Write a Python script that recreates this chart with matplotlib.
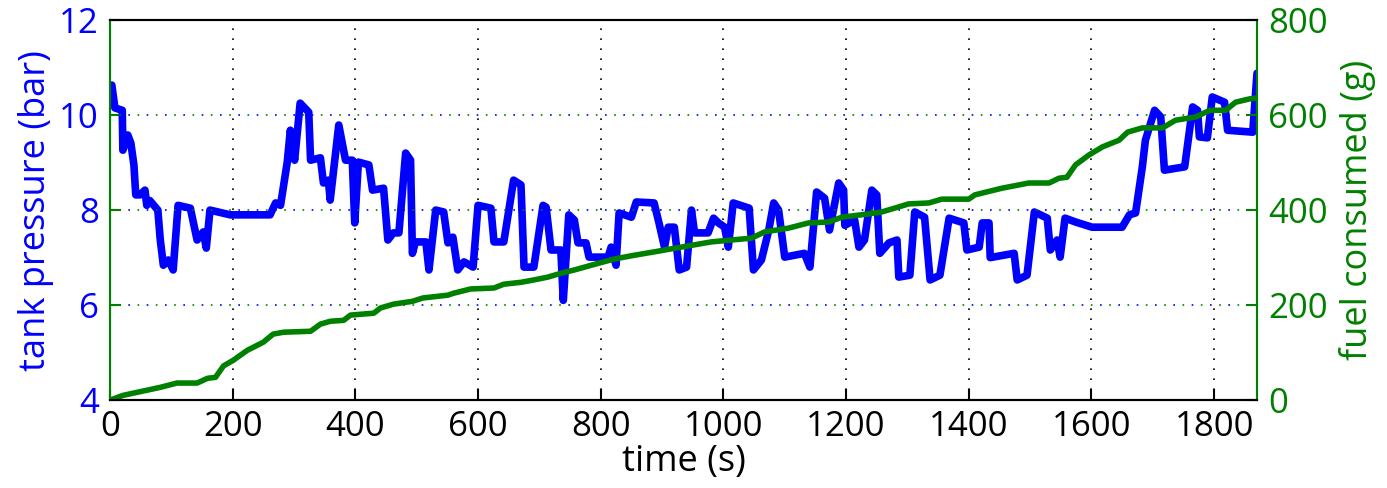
import numpy as np
import matplotlib
matplotlib.use("Agg")
import matplotlib.pyplot as plt

plt.rcParams['font.family'] = ['Open Sans', 'DejaVu Sans']

# tank pressure trace (s, bar)
t_press = [0, 3, 8, 20, 21, 29, 34, 39, 42, 49, 57, 60, 65, 78, 82, 87, 95, 103,
           111, 131, 142, 152, 157, 163, 196, 261, 270, 278, 289, 294, 301, 310,
           324, 327, 343, 348, 356, 359, 373, 384, 395, 399, 405, 422, 428, 446,
           453, 462, 471, 482, 490, 493, 498, 515, 520, 531, 544, 551, 559, 567,
           577, 592, 600, 621, 626, 642, 658, 670, 675, 691, 706, 711, 719, 735,
           739, 748, 757, 763, 776, 781, 812, 817, 825, 830, 850, 858, 887, 895,
           904, 910, 920, 928, 940, 948, 953, 975, 984, 992, 1002, 1008, 1016,
           1042, 1049, 1062, 1074, 1082, 1090, 1100, 1132, 1141, 1152, 1165, 1173,
           1188, 1196, 1198, 1214, 1221, 1230, 1242, 1250, 1255, 1270, 1283, 1286,
           1304, 1312, 1328, 1337, 1353, 1368, 1392, 1397, 1417, 1422, 1433, 1435,
           1474, 1479, 1495, 1507, 1528, 1533, 1544, 1549, 1557, 1574, 1601, 1650,
           1662, 1672, 1683, 1688, 1703, 1713, 1719, 1752, 1765, 1773, 1776, 1789,
           1797, 1817, 1822, 1863, 1870]
pressure = [10.6, 10.63, 10.15, 10.1, 9.26, 9.58, 9.41, 8.95, 8.32, 8.32, 8.42, 8.1,
            8.2, 8.0, 7.37, 6.84, 6.95, 6.74, 8.1, 8.04, 7.37, 7.54, 7.2, 8.0, 7.9,
            7.9, 8.15, 8.1, 9.01, 9.68, 9.05, 10.25, 10.06, 9.05, 9.1, 8.57, 8.63,
            8.21, 9.79, 9.05, 9.05, 7.73, 9.01, 8.95, 8.42, 8.46, 7.37, 7.52, 7.52,
            9.2, 9.05, 7.09, 7.33, 7.33, 6.74, 8.0, 7.96, 7.31, 7.43, 6.74, 6.91,
            6.8, 8.1, 8.04, 7.33, 7.33, 8.63, 8.53, 6.8, 6.8, 8.1, 8.06, 7.16, 7.16,
            6.1, 7.9, 7.79, 7.31, 7.31, 7.01, 7.01, 7.22, 6.84, 7.94, 7.85, 8.17,
            8.15, 7.73, 7.22, 7.64, 7.64, 6.74, 6.8, 8.0, 7.52, 7.52, 7.83, 7.73,
            7.64, 7.22, 8.15, 8.04, 6.74, 6.95, 7.58, 8.15, 8.0, 7.01, 7.09, 6.8,
            8.38, 8.25, 7.58, 8.57, 8.42, 7.68, 7.79, 7.22, 7.37, 8.42, 8.32, 7.09,
            7.31, 7.37, 6.59, 6.63, 7.96, 7.85, 6.53, 6.63, 7.83, 7.73, 7.16, 7.22,
            7.73, 7.73, 7.0, 7.09, 6.53, 6.63, 7.96, 7.83, 7.16, 7.37, 7.01, 7.83,
            7.75, 7.64, 7.64, 7.9, 7.94, 8.91, 9.47, 10.1, 9.96, 8.84, 8.91, 10.17,
            10.1, 9.54, 9.52, 10.38, 10.27, 9.68, 9.64, 10.88]

# cumulative fuel trace (s, g)
t_fuel = [0, 21, 82, 109, 142, 159, 172, 185, 201, 224, 250, 266, 283, 327, 343,
          359, 381, 392, 430, 441, 462, 493, 510, 551, 560, 588, 626, 642, 670,
          691, 714, 735, 757, 796, 822, 855, 887, 931, 980, 1046, 1067, 1106,
          1139, 1172, 1193, 1237, 1258, 1279, 1302, 1335, 1356, 1400, 1410, 1454,
          1498, 1531, 1547, 1560, 1574, 1596, 1618, 1645, 1659, 1683, 1716, 1737,
          1770, 1793, 1819, 1835, 1858, 1870]
fuel = [0, 10, 27, 36, 36, 46, 48, 72, 84, 105, 122, 139, 143, 145, 160, 166, 168,
        179, 183, 194, 202, 208, 215, 221, 225, 234, 236, 244, 248, 253, 259, 267,
        274, 288, 297, 305, 312, 322, 333, 341, 354, 362, 373, 375, 385, 392, 396,
        404, 413, 415, 423, 423, 432, 446, 457, 457, 467, 469, 495, 516, 533, 547,
        564, 573, 573, 589, 596, 610, 610, 627, 634, 636]

blue = (0, 0, 1)
green = (0, 0.5, 0)

fig = plt.figure(figsize=(13.87, 4.88), dpi=100)
ax = fig.add_axes([0.0793, 0.18, 0.8270, 0.779])
ax2 = ax.twinx()

ax.plot(t_press, pressure, color=blue, linewidth=5.5, solid_joinstyle='round',
        solid_capstyle='round')
ax2.plot(t_fuel, fuel, color=green, linewidth=4, solid_joinstyle='round',
         solid_capstyle='round')

ax.set_xlim(0, 1870)
ax.set_ylim(4, 12)
ax2.set_ylim(0, 800)
ax.set_xticks(np.arange(0, 1801, 200))
ax.set_yticks([4, 6, 8, 10, 12])
ax2.set_yticks([0, 200, 400, 600, 800])

fs = 25
ax.tick_params(axis='x', direction='in', length=8, width=1.5, colors='black',
               labelsize=fs, pad=7)
ax.tick_params(axis='y', direction='in', length=8, width=1.5, colors=green,
               labelcolor=blue, labelsize=fs, pad=8)
ax2.tick_params(axis='y', direction='in', length=8, width=1.5, colors=green,
                labelcolor=green, labelsize=fs, pad=8)

ax.set_xlabel("time (s)", fontsize=26, labelpad=0)
ax.set_ylabel("tank pressure (bar)", fontsize=26, color=blue, labelpad=4)
ax2.set_ylabel("fuel consumed (g)", fontsize=26, color=green, labelpad=8)

ax.xaxis.grid(True, color='black', linestyle=(0, (1, 5)), linewidth=1.2)
ax.yaxis.grid(True, color=blue, linestyle=(0, (1, 10)), linewidth=1.2)
ax2.yaxis.grid(True, color=green, linestyle=(5.5, (1, 10)), linewidth=1.2)
ax.set_axisbelow(True)

for a in (ax, ax2):
    a.spines['top'].set_color('black')
    a.spines['bottom'].set_color('black')
    a.spines['left'].set_color(green)
    a.spines['right'].set_color(green)
    for s in a.spines.values():
        s.set_linewidth(1.5)

fig.savefig("out.png", dpi=100)
